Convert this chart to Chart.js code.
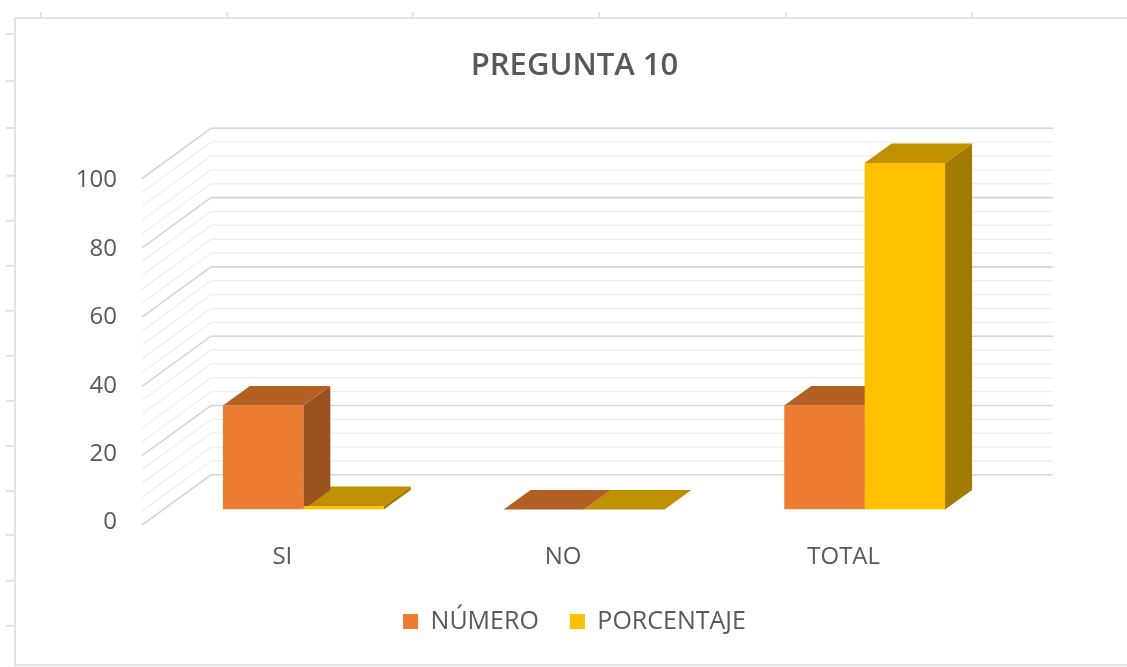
<!DOCTYPE html>
<html>
<head>
<meta charset="utf-8">
<style>
html,body{margin:0;padding:0;background:#fff;}
canvas{display:block;filter:blur(0.6px);}
</style>
<script src="https://cdn.jsdelivr.net/npm/chart.js@4"></script>
</head>
<body>
<canvas id="c" width="1127" height="667"></canvas>
<script>
const categories = ["SI", "NO", "TOTAL"];
const numero = [30, 0, 30];
const porcentaje = [1, 0, 100];
const seriesNames = ["NÚMERO", "PORCENTAJE"];
const yTickValues = [0, 20, 40, 60, 80, 100];
const wallGridValues = [0,4,8,12,16,20,24,28,32,36,40,44,48,52,56,60,64,68,72,76,80,84,88,92,96,100];
const chartTitle = "PREGUNTA 10";

const FONT = '"Open Sans", sans-serif';
const TEXT = '#595959';

const frontColors = ['#ED7D31', '#FFC000'];
const topColors   = ['#B45F24', '#BF9000'];
const sideColors  = ['#9A5120', '#A37B00'];

const frame3d = {
  id: 'frame3d',
  beforeDraw(chart) {
    const c = chart.ctx;
    c.save();
    c.strokeStyle = '#e2e2e2';
    c.lineWidth = 2;
    c.beginPath();
    c.moveTo(1127, 18); c.lineTo(15, 18); c.lineTo(15, 665); c.lineTo(1127, 665);
    [41, 227, 413, 599, 786, 972].forEach(x => { c.moveTo(x, 12); c.lineTo(x, 18); });
    [34, 81, 128, 175.7, 220.7, 265.7, 310.7, 355.7, 400.7, 446, 491, 535, 580.7, 625.7]
      .forEach(y => { c.moveTo(6, y); c.lineTo(15, y); });
    c.stroke();
    c.restore();
  },
  beforeDatasetsDraw(chart) {
    const c = chart.ctx, y = chart.scales.y, area = chart.chartArea;
    // receding wall and floor gridlines
    const frontX = area.left - 21, backX = area.left + 48, endX = area.right + 48;
    c.save();
    [false, true].forEach(major => {
      wallGridValues.forEach(v => {
        if ((v % 20 === 0) !== major) return;
        const p = y.getPixelForValue(v);
        c.beginPath();
        c.moveTo(frontX, p + 15.5);
        c.lineTo(backX, p - 34.7);
        c.lineTo(endX, p - 34.7);
        c.strokeStyle = major ? '#d6d6d6' : '#efefef';
        c.lineWidth = major ? 1.6 : 1.4;
        c.stroke();
      });
    });
    // top and side faces of each bar
    const dx = 27, dy = 19.5;
    const poly = (pts, col) => {
      c.beginPath();
      pts.forEach((q, i) => i ? c.lineTo(q[0], q[1]) : c.moveTo(q[0], q[1]));
      c.closePath();
      c.fillStyle = col;
      c.fill();
    };
    [1, 0].forEach(ds => {
      chart.getDatasetMeta(ds).data.forEach(bar => {
        const L = bar.x - bar.width / 2, R = bar.x + bar.width / 2, T = bar.y, B = bar.base;
        if (B - T > 0.1) poly([[R, T], [R + dx, T - dy], [R + dx, B - dy], [R, B]], sideColors[ds]);
        poly([[L, T], [L + dx, T - dy], [R + dx, T - dy], [R, T]], topColors[ds]);
      });
    });
    c.restore();
  }
};

new Chart(document.getElementById('c'), {
  type: 'bar',
  data: {
    labels: categories,
    datasets: [
      { label: seriesNames[0], data: numero, backgroundColor: frontColors[0], borderWidth: 0, yAxisID: 'y' },
      { label: seriesNames[1], data: porcentaje, backgroundColor: frontColors[1], borderWidth: 0, yAxisID: 'y' }
    ]
  },
  options: {
    responsive: false,
    animation: false,
    events: [],
    categoryPercentage: 0.573,
    barPercentage: 1,
    layout: { padding: { left: 22, right: 0, top: 0, bottom: 23 } },
    plugins: {
      tooltip: { enabled: false },
      title: {
        display: true,
        text: chartTitle,
        color: TEXT,
        font: { family: FONT, size: 31, weight: '600', lineHeight: 1 },
        padding: { top: 51, bottom: 81 }
      },
      legend: {
        display: true,
        position: 'bottom',
        onClick: null,
        labels: {
          color: TEXT,
          font: { family: FONT, size: 25 },
          boxWidth: 15,
          boxHeight: 15,
          padding: 31
        }
      }
    },
    scales: {
      x: {
        grid: { display: false },
        border: { display: false },
        ticks: {
          color: TEXT,
          font: { family: FONT, size: 24 },
          padding: 25,
          labelOffset: -21,
          maxRotation: 0
        },
        afterFit(s) { s.height = 68.5; }
      },
      y: {
        position: 'right',
        min: 0,
        max: 100,
        grid: { display: false },
        border: { display: false },
        ticks: { display: false },
        afterFit(s) { s.width = 122; }
      },
      yLabels: {
        position: 'left',
        min: 3.8,
        max: 105.1,
        grid: { display: false },
        border: { display: false },
        afterBuildTicks(s) { s.ticks = yTickValues.map(v => ({ value: v })); },
        ticks: {
          color: TEXT,
          autoSkip: false,
          font: { family: FONT, size: 24 },
          padding: 38,
          callback: v => String(v)
        },
        afterFit(s) { s.width = 141; }
      }
    }
  },
  plugins: [frame3d]
});
</script>
</body>
</html>
